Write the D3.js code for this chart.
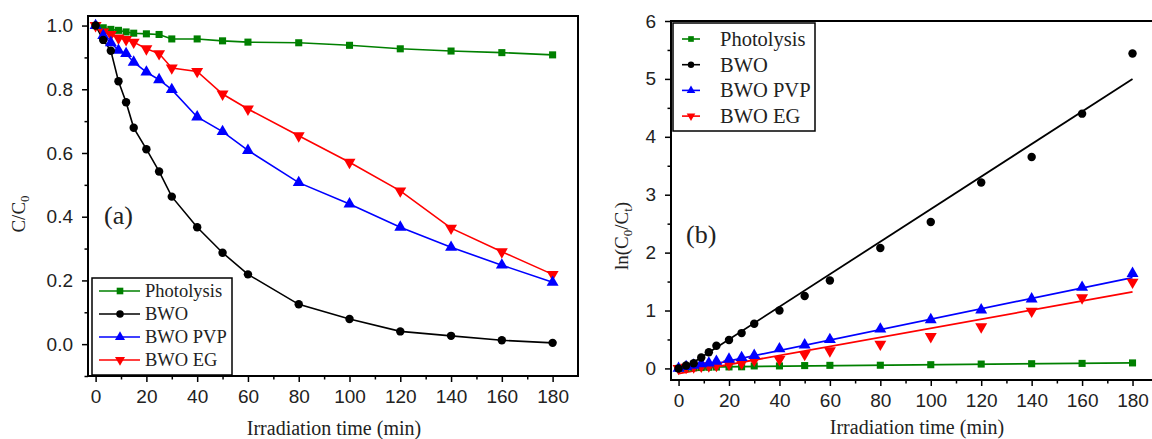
<!DOCTYPE html>
<html><head><meta charset="utf-8">
<script src="https://cdn.jsdelivr.net/npm/d3@7"></script>
<style>
html,body{margin:0;padding:0;background:#fff;}
svg{display:block;font-family:"Liberation Serif","Times New Roman",serif;}
</style></head>
<body>
<svg id="chart" width="1152" height="439"></svg>
<script>
// ---------- data ----------
const times = [0,3,6,9,12,15,20,25,30,40,50,60,80,100,120,140,160,180];
const seriesNames = ["Photolysis","BWO","BWO PVP","BWO EG"];
const seriesColors = ["#008000","#000000","#0000ff","#ff0000"];
// panel (a): C/C0
const photolysisA = [1.0,0.993,0.988,0.985,0.980,0.976,0.974,0.972,0.958,0.958,0.952,0.948,0.946,0.938,0.927,0.920,0.915,0.908];
const bwoA        = [1.0,0.955,0.921,0.825,0.759,0.679,0.612,0.542,0.463,0.367,0.287,0.219,0.125,0.079,0.040,0.026,0.012,0.004];
const pvpA        = [1.0,0.969,0.946,0.922,0.912,0.885,0.854,0.830,0.799,0.713,0.667,0.608,0.507,0.440,0.367,0.304,0.248,0.194];
const egA         = [1.0,0.980,0.972,0.961,0.956,0.948,0.927,0.912,0.867,0.856,0.785,0.738,0.654,0.571,0.481,0.364,0.290,0.219];
// panel (b): ln(C0/Ct)
const photolysisB = [0,0.007,0.012,0.015,0.020,0.024,0.026,0.028,0.043,0.043,0.049,0.053,0.055,0.064,0.075,0.081,0.087,0.095];
const bwoB        = [0,0.05,0.09,0.19,0.28,0.39,0.49,0.61,0.77,1.00,1.25,1.52,2.08,2.53,3.21,3.65,4.40,5.44];
const pvpB        = [0,0.031,0.056,0.081,0.092,0.122,0.158,0.186,0.224,0.338,0.405,0.498,0.68,0.84,1.01,1.20,1.40,1.64];
const egB         = [0,0.020,0.028,0.040,0.045,0.053,0.076,0.092,0.143,0.155,0.242,0.304,0.42,0.55,0.72,0.99,1.22,1.49];
// fitted lines in (b): [t, value] at both ends
const photolysisFit = [[0,0.02],[180,0.097]];
const bwoFit        = [[0,-0.06],[180,5.0]];
const pvpFit        = [[0,-0.05],[180,1.57]];
const egFit         = [[0,-0.09],[180,1.32]];
const xTicks  = [0,20,40,60,80,100,120,140,160,180];
const xMinor  = [10,30,50,70,90,110,130,150,170];
const yTicksA = [0.0,0.2,0.4,0.6,0.8,1.0];
const yMinorA = [-0.1,0.1,0.3,0.5,0.7,0.9];
const yTicksB = [0,1,2,3,4,5,6];
const yMinorB = [0.5,1.5,2.5,3.5,4.5,5.5];

const dataA = [photolysisA,bwoA,pvpA,egA];
const dataB = [photolysisB,bwoB,pvpB,egB];
const fits  = [photolysisFit,bwoFit,pvpFit,egFit];

const svg = d3.select("#chart");

function symbolFor(i, size){
  const types=[d3.symbolSquare,d3.symbolCircle,d3.symbolTriangle,d3.symbolTriangle];
  return d3.symbol().type(types[i]).size(size)();
}
function markerTransform(i,x,y){
  return i===3 ? `translate(${x},${y}) rotate(180)` : `translate(${x},${y})`;
}
const markerSize = [50,56,62,62];

function drawAxes(g, x, y, yTicks, yMinor, yFmt){
  const [x0,x1] = x.range(); const [y0,y1] = y.range();
  const ax = g.append("g").attr("transform",`translate(0,${y0})`)
    .call(d3.axisBottom(x).tickValues(xTicks).tickSize(6).tickPadding(8).tickFormat(d3.format("d")));
  ax.select(".domain").remove();
  ax.selectAll("line").attr("stroke","#000").attr("stroke-width",1.5);
  ax.selectAll("text").attr("font-size",19).attr("fill","#222");
  const axm = g.append("g").attr("transform",`translate(0,${y0})`)
    .call(d3.axisBottom(x).tickValues(xMinor).tickSize(3.5).tickFormat(""));
  axm.select(".domain").remove();
  axm.selectAll("line").attr("stroke","#000").attr("stroke-width",1.5);
  const ay = g.append("g").attr("transform",`translate(${x0},0)`)
    .call(d3.axisLeft(y).tickValues(yTicks).tickSize(6).tickPadding(9).tickFormat(yFmt));
  ay.select(".domain").remove();
  ay.selectAll("line").attr("stroke","#000").attr("stroke-width",1.5);
  ay.selectAll("text").attr("font-size",19).attr("fill","#222");
  const aym = g.append("g").attr("transform",`translate(${x0},0)`)
    .call(d3.axisLeft(y).tickValues(yMinor).tickSize(3.5).tickFormat(""));
  aym.select(".domain").remove();
  aym.selectAll("line").attr("stroke","#000").attr("stroke-width",1.5);
  g.append("rect").attr("x",x0).attr("y",y1).attr("width",x1-x0).attr("height",y0-y1)
    .attr("fill","none").attr("stroke","#000").attr("stroke-width",2);
}

// ---------- panel (a) ----------
const xA = d3.scaleLinear().domain([-3,190]).range([88,578]);
const yA = d3.scaleLinear().domain([-0.1,1.03]).range([376,16]);
const gA = svg.append("g");
svg.append("clipPath").attr("id","clipA").append("rect")
  .attr("x",88).attr("y",16).attr("width",490).attr("height",360);
const plotA = gA.append("g").attr("clip-path","url(#clipA)");
const lineA = d3.line().x((d,i)=>xA(times[i])).y(d=>yA(d));
[0,3,2,1].forEach(i=>{
  plotA.append("path").attr("d",lineA(dataA[i])).attr("fill","none")
    .attr("stroke",seriesColors[i]).attr("stroke-width",1.6);
});
[0,3,2,1].forEach(i=>{
  plotA.append("g").selectAll("path").data(dataA[i]).join("path")
    .attr("d",symbolFor(i,markerSize[i]))
    .attr("transform",(d,k)=>markerTransform(i,xA(times[k]),yA(d)))
    .attr("fill",seriesColors[i]);
});
drawAxes(gA,xA,yA,yTicksA,yMinorA,d3.format(".1f"));

// legend (a)
const legA = gA.append("g");
legA.append("rect").attr("x",92).attr("y",278).attr("width",140).attr("height",97)
  .attr("fill","#fff").attr("stroke","#000").attr("stroke-width",1.5);
seriesNames.forEach((name,i)=>{
  const cy = 291 + i*23;
  legA.append("line").attr("x1",99).attr("x2",140).attr("y1",cy).attr("y2",cy)
    .attr("stroke",seriesColors[i]).attr("stroke-width",1.6);
  legA.append("path").attr("d",symbolFor(i,44)).attr("transform",markerTransform(i,120,cy))
    .attr("fill",seriesColors[i]);
  legA.append("text").attr("x",145).attr("y",cy+6).attr("font-size",18.5).attr("fill","#222").text(name);
});
gA.append("text").attr("x",104).attr("y",224).attr("font-size",26).attr("fill","#222").text("(a)");
gA.append("text").attr("x",334).attr("y",435).attr("text-anchor","middle").attr("font-size",20)
  .attr("fill","#222").text("Irradiation time (min)");
const tA = gA.append("text").attr("transform","translate(25,214) rotate(-90)")
  .attr("text-anchor","middle").attr("font-size",19).attr("fill","#222");
tA.append("tspan").text("C/C");
tA.append("tspan").attr("font-size",13).attr("dy",4).text("0");

// ---------- panel (b) ----------
const xB = d3.scaleLinear().domain([-3,190]).range([671,671+193*2.522]);
const yB = d3.scaleLinear().domain([-0.2,6]).range([380,21]);
const gB = svg.append("g");
svg.append("clipPath").attr("id","clipB").append("rect")
  .attr("x",671).attr("y",21).attr("width",500).attr("height",359);
const plotB = gB.append("g").attr("clip-path","url(#clipB)");
const fitLine = d3.line().x(d=>xB(d[0])).y(d=>yB(d[1]));
[0,3,2,1].forEach(i=>{
  plotB.append("path").attr("d",fitLine(fits[i])).attr("fill","none")
    .attr("stroke",seriesColors[i]).attr("stroke-width",1.8);
});
[0,3,2,1].forEach(i=>{
  plotB.append("g").selectAll("path").data(dataB[i]).join("path")
    .attr("d",symbolFor(i,markerSize[i]))
    .attr("transform",(d,k)=>markerTransform(i,xB(times[k]),yB(d)))
    .attr("fill",seriesColors[i]);
});
drawAxes(gB,xB,yB,yTicksB,yMinorB,d3.format("d"));

// legend (b)
const legB = gB.append("g");
legB.append("rect").attr("x",673).attr("y",23).attr("width",142).attr("height",108)
  .attr("fill","#fff").attr("stroke","#000").attr("stroke-width",1.5);
seriesNames.forEach((name,i)=>{
  const cy = 39 + i*25.7;
  legB.append("line").attr("x1",682).attr("x2",700).attr("y1",cy).attr("y2",cy)
    .attr("stroke",seriesColors[i]).attr("stroke-width",1.6);
  legB.append("path").attr("d",symbolFor(i,32)).attr("transform",markerTransform(i,691,cy))
    .attr("fill",seriesColors[i]);
  legB.append("text").attr("x",720).attr("y",cy+7).attr("font-size",20.5).attr("fill","#222").text(name);
});
gB.append("text").attr("x",686).attr("y",243).attr("font-size",26).attr("fill","#222").text("(b)");
gB.append("text").attr("x",917).attr("y",434).attr("text-anchor","middle").attr("font-size",20)
  .attr("fill","#222").text("Irradiation time (min)");
const tB = gB.append("text").attr("transform","translate(628,236) rotate(-90)")
  .attr("text-anchor","middle").attr("font-size",19).attr("fill","#222");
tB.append("tspan").text("ln(C");
tB.append("tspan").attr("font-size",13).attr("dy",4).text("0");
tB.append("tspan").attr("dy",-4).text("/C");
tB.append("tspan").attr("font-size",13).attr("dy",4).text("t");
tB.append("tspan").attr("dy",-4).text(")");
</script>
</body></html>
